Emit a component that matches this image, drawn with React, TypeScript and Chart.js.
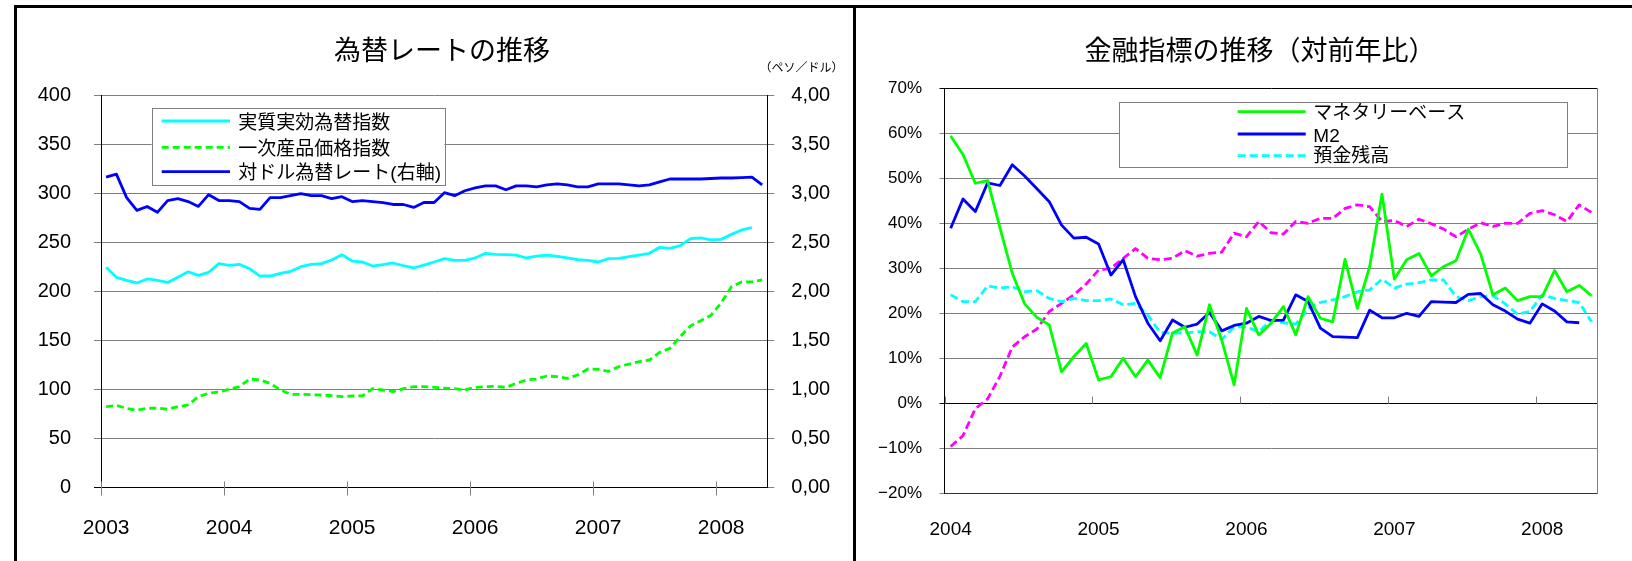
import React, { useEffect, useRef } from 'react';
import { Chart, registerables } from 'chart.js';

Chart.register(...registerables);

// ---------------- Left chart: monthly, Jan 2003 – May 2008 ----------------
const fxYearTicks = ['2003', '2004', '2005', '2006', '2007', '2008'];
const fxStartYear = 2003;
const fxMonthCount = 65;

// 実質実効為替指数 (left axis)
const realEffectiveIndex = [
  224.9, 214.7, 211.6, 208.9, 213.0, 211.6, 209.5, 214.7, 220.4, 216.7,
  219.8, 228.6, 226.9, 227.9, 223.5, 216.0, 216.0, 218.7, 220.8, 225.5,
  227.9, 228.6, 232.3, 237.8, 231.3, 230.3, 226.2, 227.6, 229.3, 226.5,
  224.2, 227.2, 230.3, 233.7, 232.0, 232.0, 234.4, 239.2, 238.1, 237.8,
  237.4, 234.4, 236.4, 237.4, 236.1, 234.4, 232.7, 232.0, 230.3, 233.7,
  234.0, 235.7, 237.4, 239.2, 245.3, 244.3, 247.0, 254.1, 254.8, 252.8,
  253.4, 258.5, 263.0, 265.3,
];

// 一次産品価格指数 (left axis)
const commodityIndex = [
  82.7, 84.0, 81.0, 79.0, 81.0, 81.3, 80.0, 82.7, 84.4, 92.9,
  96.3, 97.7, 100.4, 103.1, 110.9, 109.9, 106.5, 99.7, 95.3, 95.3,
  94.9, 94.6, 93.9, 92.9, 93.6, 93.6, 101.0, 99.7, 98.0, 101.0,
  103.1, 103.1, 102.4, 101.7, 101.0, 99.7, 102.4, 103.1, 103.4, 102.4,
  106.5, 109.9, 110.9, 114.0, 113.3, 111.6, 115.0, 121.1, 120.8, 118.7,
  123.5, 126.2, 128.6, 130.3, 138.1, 142.2, 154.1, 165.0, 170.4, 175.9,
  188.5, 205.0, 210.0, 210.0, 212.0,
];

// 対ドル為替レート (right axis, ペソ/ドル)
const pesoPerDollar = [
  3.17, 3.20, 2.96, 2.83, 2.87, 2.81, 2.93, 2.95, 2.92, 2.87,
  2.99, 2.93, 2.93, 2.92, 2.85, 2.84, 2.96, 2.96, 2.98, 3.00,
  2.98, 2.98, 2.95, 2.97, 2.92, 2.93, 2.92, 2.91, 2.89, 2.89,
  2.86, 2.91, 2.91, 3.01, 2.98, 3.03, 3.06, 3.08, 3.08, 3.04,
  3.08, 3.08, 3.07, 3.09, 3.10, 3.09, 3.07, 3.07, 3.10, 3.10,
  3.10, 3.09, 3.08, 3.09, 3.12, 3.15, 3.15, 3.15, 3.15, 3.155,
  3.16, 3.16, 3.165, 3.17, 3.09,
];

// ---------------- Right chart: monthly, Jan 2004 – May 2008 ----------------
const finYearTicks = ['2004', '2005', '2006', '2007', '2008'];
const finStartYear = 2004;
const finMonthCount = 53;

// マネタリーベース (%)
const monetaryBase = [
  59.4, 55.3, 48.9, 49.5, 39.0, 28.9, 22.1, 19.1, 17.4, 7.0,
  10.4, 13.3, 5.2, 5.9, 10.0, 5.9, 9.6, 5.7, 15.6, 17.0,
  10.7, 21.9, 14.0, 4.1, 21.1, 15.2, 17.8, 21.5, 15.2, 23.7,
  18.9, 18.1, 32.0, 21.1, 30.4, 46.5, 27.6, 31.9, 33.3, 28.3,
  30.4, 31.7, 38.7, 33.2, 24.1, 25.6, 22.8, 23.7, 23.7, 29.5,
  24.8, 26.2, 23.9,
];

// M2 (%)
const m2Growth = [
  38.9, 45.4, 42.6, 49.0, 48.4, 53.0, 50.5, 47.7, 44.8, 39.6,
  36.7, 36.9, 35.4, 28.5, 31.9, 23.7, 17.8, 13.9, 18.5, 16.9,
  17.6, 20.2, 16.1, 17.3, 17.8, 19.3, 18.4, 18.5, 24.1, 22.6,
  16.7, 14.8, 14.7, 14.6, 20.7, 19.0, 19.0, 20.0, 19.3, 22.6,
  22.5, 22.4, 24.2, 24.4, 21.9, 20.5, 18.7, 17.8, 22.1, 20.5,
  18.1, 17.9,
];

// 預金残高 (%)
const depositGrowth = [
  24.1, 22.6, 22.6, 26.1, 25.6, 25.9, 24.8, 25.0, 23.3, 22.6,
  23.3, 22.8, 22.8, 23.2, 21.9, 22.2, 19.6, 15.7, 15.6, 15.6,
  15.9, 15.9, 14.2, 17.0, 17.0, 15.9, 18.5, 17.9, 17.6, 21.1,
  22.4, 23.0, 23.7, 24.8, 25.2, 27.6, 25.6, 26.5, 26.8, 27.4,
  27.4, 23.7, 22.8, 23.7, 23.9, 22.1, 19.8, 20.4, 24.1, 23.3,
  22.8, 22.4, 18.1,
];

// 貸出残高 (%) — magenta dashed, not shown in the legend
const loanGrowth = [
  -9.6, -7.2, -1.2, 1.0, 6.0, 12.5, 14.8, 16.5, 20.4, 22.2,
  24.1, 26.5, 29.6, 30.0, 32.2, 34.4, 32.2, 31.9, 32.2, 33.9,
  32.7, 33.3, 33.6, 37.8, 37.0, 40.4, 37.9, 37.6, 40.4, 40.0,
  41.1, 41.1, 43.3, 44.1, 43.7, 40.4, 40.6, 39.3, 40.9, 39.9,
  38.7, 37.0, 38.7, 40.1, 39.3, 40.0, 40.0, 42.2, 42.8, 41.9,
  40.4, 44.1, 42.4,
];

function monthLabels(startYear: number, count: number): string[] {
  const out: string[] = [];
  for (let i = 0; i < count; i++) {
    const y = startYear + Math.floor(i / 12);
    const m = (i % 12) + 1;
    out.push(`${y}-${m < 10 ? '0' : ''}${m}`);
  }
  return out;
}

const fxMonths = monthLabels(fxStartYear, fxMonthCount);
const finMonths = monthLabels(finStartYear, finMonthCount);

const LATIN = "'Liberation Sans', 'Noto Sans CJK JP', Arial, sans-serif";
const CJK = "'Noto Sans CJK JP', 'Liberation Sans', sans-serif";
const GRID = '#808080';
const MINUS = '\u2212';
const LW = 2.8;

type LegendCfg = {
  left: number; top: number; width: number; height: number;
  lineX1: number; lineX2: number; lineY: number[];
  textX: number; textY: number[]; font: string; items: number[];
};
type DecorCfg = {
  tickAt: number; tickUp: number; tickDown: number;
  legend: LegendCfg;
  texts?: { text: string; x: number; y: number; align: CanvasTextAlign; font: string }[];
};

function makeDecor(cfg: DecorCfg) {
  return {
    id: 'panelDecor',
    afterDraw(chart: any) {
      const { ctx, scales } = chart;
      const xs = scales.x;
      const ys = scales.y;
      ctx.save();
      // year boundary tick marks on the category axis
      const base = Math.round(ys.getPixelForValue(cfg.tickAt)) + 0.5;
      ctx.strokeStyle = GRID;
      ctx.lineWidth = 1;
      const n = xs.getLabels().length;
      for (let i = 0; i < n; i += 12) {
        const px = Math.round(xs.getPixelForValue(i - 0.5)) + 0.5;
        ctx.beginPath();
        ctx.moveTo(px, base - cfg.tickUp);
        ctx.lineTo(px, base + cfg.tickDown);
        ctx.stroke();
      }
      // legend box
      const L = cfg.legend;
      ctx.fillStyle = '#fff';
      ctx.fillRect(L.left, L.top, L.width, L.height);
      ctx.strokeStyle = GRID;
      ctx.lineWidth = 1;
      ctx.strokeRect(Math.round(L.left) + 0.5, Math.round(L.top) + 0.5, Math.round(L.width), Math.round(L.height));
      L.items.forEach((dsIndex, k) => {
        const ds = chart.data.datasets[dsIndex];
        ctx.save();
        ctx.strokeStyle = ds.borderColor;
        ctx.lineWidth = ds.borderWidth;
        ctx.setLineDash(ds.borderDash || []);
        ctx.beginPath();
        ctx.moveTo(L.lineX1, L.lineY[k]);
        ctx.lineTo(L.lineX2, L.lineY[k]);
        ctx.stroke();
        ctx.restore();
        ctx.fillStyle = '#000';
        ctx.font = L.font;
        ctx.textAlign = 'left';
        ctx.textBaseline = 'middle';
        ctx.fillText(ds.label, L.textX, L.textY[k]);
      });
      (cfg.texts || []).forEach((t) => {
        ctx.fillStyle = '#000';
        ctx.font = t.font;
        ctx.textAlign = t.align;
        ctx.textBaseline = 'middle';
        ctx.fillText(t.text, t.x, t.y);
      });
      ctx.restore();
    },
  };
}

function leftConfig(): any {
  return {
    type: 'line',
    data: {
      labels: fxMonths,
      datasets: [
        { label: '実質実効為替指数', data: realEffectiveIndex, borderColor: '#00FFFF', borderWidth: LW, yAxisID: 'y' },
        { label: '一次産品価格指数', data: commodityIndex, borderColor: '#00FF00', borderWidth: LW, borderDash: [7, 4], yAxisID: 'y' },
        { label: '対ドル為替レート(右軸)', data: pesoPerDollar, borderColor: '#0000FF', borderWidth: LW, yAxisID: 'y1' },
      ],
    },
    options: {
      responsive: false,
      animation: false,
      layout: { padding: { left: 29, right: 0, top: 0, bottom: 0 } },
      elements: {
        point: { radius: 0 },
        line: { tension: 0, borderJoinStyle: 'round', fill: false },
      },
      plugins: {
        legend: { display: false },
        tooltip: { enabled: false },
        title: {
          display: true,
          text: '為替レートの推移',
          color: '#000',
          font: { family: CJK, size: 27, weight: 'normal' },
          padding: { top: 33.5, bottom: 29.8 },
        },
      },
      scales: {
        x: {
          type: 'category',
          offset: true,
          grid: { display: false, drawTicks: false },
          border: { color: '#000', width: 1 },
          ticks: {
            autoSkip: false, maxRotation: 0, minRotation: 0, padding: 28, color: '#000',
            font: { family: LATIN, size: 21 },
            callback: (_v: any, i: number) => (i % 12 === 0 ? fxYearTicks[i / 12] : ''),
          },
          afterFit: (s: any) => { s.height = 73.3; },
        },
        y: {
          position: 'left', min: 0, max: 400,
          ticks: { stepSize: 50, padding: 23, color: '#000', font: { family: LATIN, size: 20 } },
          grid: { color: (c: any) => (c.tick && c.tick.value === 0 ? '#000' : GRID), tickLength: 7, lineWidth: 1 },
          border: { color: '#000', width: 1 },
          afterFit: (s: any) => { s.width = 72; },
        },
        y1: {
          position: 'right', min: 0, max: 4,
          ticks: {
            stepSize: 0.5, padding: 17, color: '#000', font: { family: LATIN, size: 20 },
            callback: (v: number) => v.toFixed(2).replace('.', ','),
          },
          grid: { drawOnChartArea: false, tickLength: 7, color: GRID },
          border: { color: '#000', width: 1 },
          afterFit: (s: any) => { s.width = 87.7; },
        },
      },
    },
    plugins: [
      makeDecor({
        tickAt: 0, tickUp: 7, tickDown: 7,
        legend: {
          left: 151.7, top: 108.3, width: 292.6, height: 77.4,
          lineX1: 161.7, lineX2: 230, lineY: [121, 147.3, 171.7],
          textX: 238.3, textY: [124, 149.5, 174], font: `19px ${LATIN}`, items: [0, 1, 2],
        },
        texts: [{ text: '（ペソ／ドル）', x: 843.5, y: 67, align: 'right', font: `12px ${CJK}` }],
      }),
    ],
  };
}

function rightConfig(): any {
  return {
    type: 'line',
    data: {
      labels: finMonths,
      datasets: [
        { label: 'マネタリーベース', data: monetaryBase, borderColor: '#00FF00', borderWidth: LW },
        { label: 'M2', data: m2Growth, borderColor: '#0000FF', borderWidth: LW },
        { label: '預金残高', data: depositGrowth, borderColor: '#00FFFF', borderWidth: LW, borderDash: [8, 4] },
        { label: '貸出残高', data: loanGrowth, borderColor: '#FF00FF', borderWidth: LW, borderDash: [8, 4] },
      ],
    },
    options: {
      responsive: false,
      animation: false,
      layout: { padding: { left: 10, right: 0, top: 0, bottom: 0 } },
      elements: {
        point: { radius: 0 },
        line: { tension: 0, borderJoinStyle: 'round', fill: false },
      },
      plugins: {
        legend: { display: false },
        tooltip: { enabled: false },
        title: {
          display: true,
          text: '金融指標の推移（対前年比）',
          color: '#000',
          font: { family: CJK, size: 27, weight: 'normal' },
          padding: { top: 33.1, bottom: 22.8 },
        },
      },
      scales: {
        x: {
          type: 'category',
          offset: true,
          grid: { display: false, drawTicks: false },
          border: { color: '#333', width: 1 },
          ticks: {
            autoSkip: false, maxRotation: 0, minRotation: 0, padding: 25, color: '#000',
            font: { family: LATIN, size: 19 },
            callback: (_v: any, i: number) => (i % 12 === 0 ? finYearTicks[i / 12] : ''),
          },
          afterFit: (s: any) => { s.height = 67.7; },
        },
        y: {
          position: 'left', min: -20, max: 70,
          ticks: {
            stepSize: 10, padding: 17.5, color: '#000', font: { family: LATIN, size: 17 },
            callback: (v: any) => {
              const n = Math.round(Number(v));
              return (n < 0 ? MINUS + String(-n) : String(n)) + '%';
            },
          },
          grid: {
            color: (c: any) => (c.tick && (c.tick.value === 0 || c.tick.value === 70) ? '#000' : GRID),
            tickLength: 5, lineWidth: 1,
          },
          border: { color: '#000', width: 1 },
          afterFit: (s: any) => { s.width = 79.5; },
        },
        yR: {
          position: 'right', min: -20, max: 70,
          ticks: { display: false },
          grid: { drawOnChartArea: false, drawTicks: false },
          border: { color: GRID, width: 1 },
          afterFit: (s: any) => { s.width = 57.3; },
        },
      },
    },
    plugins: [
      makeDecor({
        tickAt: 0, tickUp: 7, tickDown: 0,
        legend: {
          left: 264.3, top: 101.7, width: 448, height: 65,
          lineX1: 382.7, lineX2: 450.7, lineY: [111.7, 134, 155.7],
          textX: 458.3, textY: [114, 136.5, 157], font: `19px ${LATIN}`, items: [0, 1, 2],
        },
      }),
    ],
  };
}

function ChartCanvas({ make, left, width }: { make: () => any; left: number; width: number }) {
  const ref = useRef<HTMLCanvasElement>(null);
  useEffect(() => {
    const chart = new Chart(ref.current as HTMLCanvasElement, make());
    return () => chart.destroy();
  }, []);
  return (
    <canvas
      ref={ref}
      width={width}
      height={561}
      style={{ position: 'absolute', left, top: 0, width, height: 561 }}
    />
  );
}

export default function App() {
  return (
    <div style={{ position: 'absolute', left: 0, top: 0, width: 1632, height: 561, background: '#fff', overflow: 'hidden' }}>
      <ChartCanvas make={leftConfig} left={0} width={855} />
      <ChartCanvas make={rightConfig} left={855} width={800} />
      <div style={{ position: 'absolute', left: 14, top: 5, width: 1618, height: 3, background: '#000' }} />
      <div style={{ position: 'absolute', left: 14, top: 5, width: 3, height: 556, background: '#000' }} />
      <div style={{ position: 'absolute', left: 853, top: 5, width: 3, height: 556, background: '#000' }} />
    </div>
  );
}
